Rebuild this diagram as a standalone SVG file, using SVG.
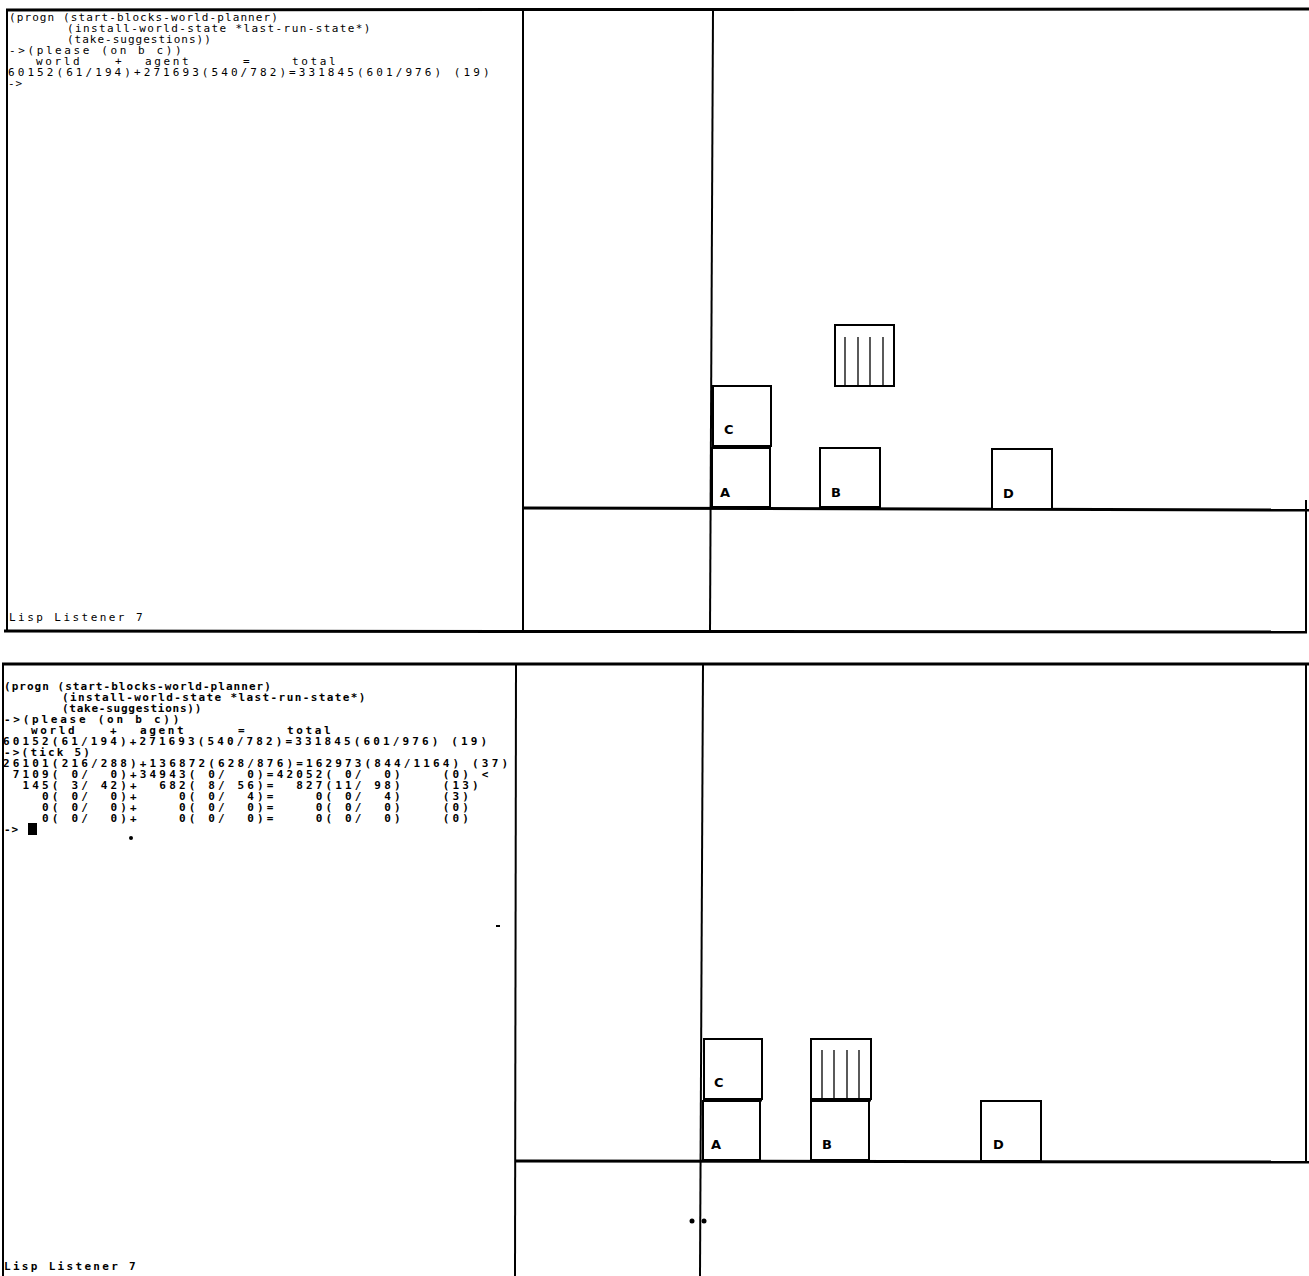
<svg xmlns="http://www.w3.org/2000/svg" width="1309" height="1276" viewBox="0 0 1309 1276">
<style>
.frame{stroke:#000;stroke-width:2;fill:none}
.thick{stroke:#000;stroke-width:3;fill:none}
.blk{stroke:#000;stroke-width:2;fill:#fff}
.hl{stroke:#000;stroke-width:1.3}
.t{font-family:"DejaVu Sans Mono","Liberation Mono",monospace;font-size:11px;fill:#000}
.tb{font-family:"DejaVu Sans Mono","Liberation Mono",monospace;font-size:11px;font-weight:bold;fill:#000}
.lbl{font-family:"DejaVu Sans","Liberation Sans",sans-serif;font-size:13px;font-weight:bold;fill:#000}
</style>
<rect width="1309" height="1276" fill="#fff"/>
<g id="top-panel">
<line class="thick" x1="6" y1="10" x2="1309" y2="9"/>
<line class="frame" x1="7" y1="10" x2="7" y2="631"/>
<line class="thick" x1="4" y1="631" x2="1307" y2="632"/>
<line class="frame" x1="1306" y1="500" x2="1306" y2="632"/>
<line class="frame" x1="523" y1="10" x2="523" y2="631"/>
<line class="frame" x1="713" y1="10" x2="710" y2="631"/>
<line class="thick" x1="523" y1="508" x2="1309" y2="510"/>
</g>
<g id="top-listener">
<text class="t" xml:space="preserve"><tspan x="9" y="21" letter-spacing="1.09">(progn (start-blocks-world-planner)</tspan><tspan x="67" y="32" letter-spacing="1.4">(install-world-state *last-run-state*)</tspan><tspan x="67" y="43" letter-spacing="1.0">(take-suggestions))</tspan><tspan x="9" y="54" letter-spacing="2.6">-&gt;(please (on b c))</tspan><tspan x="36" y="65" letter-spacing="2.6">world</tspan><tspan x="115" y="65">+</tspan><tspan x="145" y="65" letter-spacing="2.6">agent</tspan><tspan x="243" y="65">=</tspan><tspan x="292" y="65" letter-spacing="2.6">total</tspan><tspan x="8" y="76" letter-spacing="3.07">60152(61/194)+271693(540/782)=331845(601/976) (19)</tspan><tspan x="8" y="87" letter-spacing="1">-&gt;</tspan><tspan x="9" y="621" letter-spacing="2.45">Lisp Listener 7</tspan></text>
</g>
<g id="top-block-C"><rect class="blk" x="713" y="386" width="58" height="60"/><text class="lbl" x="724" y="434">C</text></g>
<g id="top-block-A"><rect class="blk" x="712" y="448" width="58" height="59"/><line class="thick" x1="712" y1="447" x2="771" y2="447"/><text class="lbl" x="720" y="497">A</text></g>
<g id="top-block-B"><rect class="blk" x="820" y="448" width="60" height="59"/><text class="lbl" x="831" y="497">B</text></g>
<g id="top-block-D"><rect class="blk" x="992" y="449" width="60" height="60"/><text class="lbl" x="1003" y="498">D</text></g>
<g id="top-hand">
<rect class="blk" x="835" y="325" width="59" height="61"/>
<line class="hl" x1="845" y1="337" x2="845" y2="386"/>
<line class="hl" x1="858" y1="337" x2="858" y2="386"/>
<line class="hl" x1="870" y1="337" x2="870" y2="386"/>
<line class="hl" x1="883" y1="337" x2="883" y2="386"/>
</g>
<g id="bottom-panel">
<line class="thick" x1="2" y1="664" x2="1309" y2="664"/>
<line class="frame" x1="3" y1="664" x2="3" y2="1276"/>
<line class="frame" x1="1306" y1="664" x2="1306" y2="1162"/>
<line class="frame" x1="516" y1="664" x2="515" y2="1276"/>
<line class="frame" x1="703" y1="664" x2="700" y2="1276"/>
<line class="thick" x1="516" y1="1161" x2="1309" y2="1162"/>
<circle cx="692" cy="1221" r="2.5" fill="#000"/>
<circle cx="704" cy="1221" r="2.5" fill="#000"/>
<rect x="496" y="925" width="4" height="2" fill="#000"/>
</g>
<g id="bottom-listener">
<text class="tb" xml:space="preserve"><tspan x="4" y="690" letter-spacing="1.03">(progn (start-blocks-world-planner)</tspan><tspan x="62" y="701" letter-spacing="1.4">(install-world-state *last-run-state*)</tspan><tspan x="62" y="712" letter-spacing="0.75">(take-suggestions))</tspan><tspan x="4" y="723" letter-spacing="2.75">-&gt;(please (on b c))</tspan><tspan x="31" y="734" letter-spacing="2.6">world</tspan><tspan x="110" y="734">+</tspan><tspan x="140" y="734" letter-spacing="2.6">agent</tspan><tspan x="238" y="734">=</tspan><tspan x="287" y="734" letter-spacing="2.6">total</tspan><tspan x="3" y="745" letter-spacing="3.12">60152(61/194)+271693(540/782)=331845(601/976) (19)</tspan><tspan x="4" y="756" letter-spacing="2.18">-&gt;(tick 5)</tspan><tspan x="3" y="767" letter-spacing="3.15">26101(216/288)+136872(628/876)=162973(844/1164) (37)</tspan><tspan x="3" y="778" letter-spacing="3.15"> 7109( 0/  0)+34943( 0/  0)=42052( 0/  0)    (0) &lt;</tspan><tspan x="3" y="789" letter-spacing="3.15">  145( 3/ 42)+  682( 8/ 56)=  827(11/ 98)    (13)</tspan><tspan x="3" y="800" letter-spacing="3.15">    0( 0/  0)+    0( 0/  4)=    0( 0/  4)    (3)</tspan><tspan x="3" y="811" letter-spacing="3.15">    0( 0/  0)+    0( 0/  0)=    0( 0/  0)    (0)</tspan><tspan x="3" y="822" letter-spacing="3.15">    0( 0/  0)+    0( 0/  0)=    0( 0/  0)    (0)</tspan><tspan x="4" y="833" letter-spacing="1">-&gt;</tspan><tspan x="4" y="1270" letter-spacing="2.31">Lisp Listener 7</tspan></text>
<rect x="28" y="823" width="9" height="12" fill="#000"/>
<circle cx="131" cy="838" r="2" fill="#000"/>
</g>
<g id="bottom-block-C"><rect class="blk" x="704" y="1039" width="58" height="60"/><text class="lbl" x="714" y="1087">C</text></g>
<g id="bottom-block-A"><rect class="blk" x="703" y="1101" width="57" height="59"/><line class="thick" x1="703" y1="1100" x2="762" y2="1100"/><text class="lbl" x="711" y="1149">A</text></g>
<g id="bottom-hand">
<rect class="blk" x="811" y="1039" width="60" height="60"/>
<line class="hl" x1="822" y1="1050" x2="822" y2="1099"/>
<line class="hl" x1="834" y1="1050" x2="834" y2="1099"/>
<line class="hl" x1="847" y1="1050" x2="847" y2="1099"/>
<line class="hl" x1="859" y1="1050" x2="859" y2="1099"/>
</g>
<g id="bottom-block-B"><rect class="blk" x="811" y="1101" width="58" height="59"/><line class="thick" x1="811" y1="1100" x2="871" y2="1100"/><text class="lbl" x="822" y="1149">B</text></g>
<g id="bottom-block-D"><rect class="blk" x="981" y="1101" width="60" height="60"/><text class="lbl" x="993" y="1149">D</text></g>
</svg>
